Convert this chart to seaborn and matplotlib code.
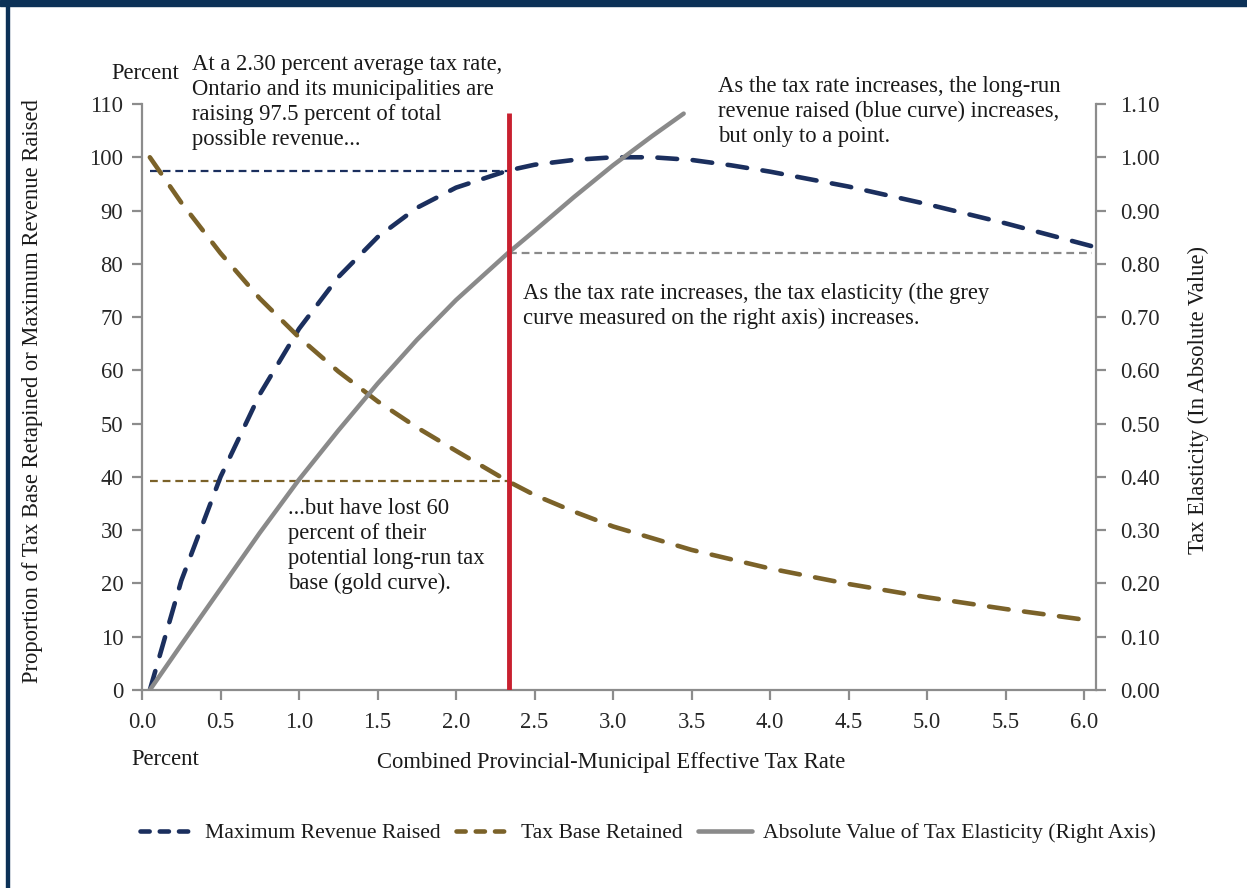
import numpy as np
import pandas as pd
import matplotlib
matplotlib.use('Agg')
import matplotlib.pyplot as plt
import seaborn as sns
from matplotlib.lines import Line2D

# 데이터
rev_x = [0.05, 0.25, 0.5, 0.75, 1.0, 1.25, 1.5, 1.75, 2.0, 2.33, 2.5, 2.75, 3.0, 3.25, 3.5, 3.75, 4.0, 4.5, 5.0, 5.5, 6.05]
rev_y = [0, 20.5, 40, 55.5, 67.8, 77.5, 85, 90.5, 94.3, 97.5, 98.6, 99.5, 100, 100, 99.5, 98.5, 97.3, 94.5, 91.2, 87.6, 83.3]

base_x = [0.05, 0.25, 0.5, 0.75, 1.0, 1.25, 1.5, 1.75, 2.0, 2.33, 2.5, 2.75, 3.0, 3.5, 4.0, 4.5, 5.0, 5.5, 6.05]
base_y = [100, 91.5, 82, 73.5, 66.2, 59.8, 54.2, 49.3, 44.9, 39.2, 36.6, 33.5, 30.7, 26.3, 22.8, 19.9, 17.4, 15.2, 13.0]

elas_x = [0.05, 0.25, 0.5, 0.75, 1.0, 1.25, 1.5, 1.75, 2.0, 2.33, 2.5, 2.75, 3.0, 3.25, 3.45]
elas_y = [0, 0.085, 0.19, 0.295, 0.395, 0.487, 0.575, 0.657, 0.732, 0.82, 0.862, 0.925, 0.985, 1.04, 1.082]

current_rate = 2.34
red_top = 108.3
rev_at_rate = 97.5
base_at_rate = 39.2
elas_at_rate = 0.82

x_ticks = [0.0, 0.5, 1.0, 1.5, 2.0, 2.5, 3.0, 3.5, 4.0, 4.5, 5.0, 5.5, 6.0]
left_ticks = [0, 10, 20, 30, 40, 50, 60, 70, 80, 90, 100, 110]
right_ticks = [0.0, 0.1, 0.2, 0.3, 0.4, 0.5, 0.6, 0.7, 0.8, 0.9, 1.0, 1.1]

NAVY = '#1b2f5e'
GOLD = '#7b6229'
GREY = '#8a8a8a'
RED = '#c8202f'
AXC = '#8c8c8c'
FRAME = '#0c3157'

sns.set_style('white')
plt.rcParams['font.family'] = ['Liberation Serif', 'DejaVu Serif']
plt.rcParams['text.color'] = '#1a1a1a'

W, H = 1247, 888
fig = plt.figure(figsize=(W / 100, H / 100), dpi=100)
ax = fig.add_axes([142 / W, 1 - 690 / H, (1096 - 142) / W, (690 - 104) / H])
ax2 = ax.twinx()

FS = 16.3
LS = 1.25
dash_kw = dict(lw=3.3, dash_capstyle='round')

# 참고선
ax.hlines(rev_at_rate, rev_x[0], current_rate, color=NAVY, lw=1.6, linestyle=(0, (3.5, 2.2)))
ax.hlines(base_at_rate, base_x[0], current_rate, color=GOLD, lw=1.6, linestyle=(0, (3.5, 2.2)))
ax2.hlines(elas_at_rate, current_rate, 6.05, color=GREY, lw=1.6, linestyle=(0, (3.5, 2.2)))

# 곡선
sns.lineplot(x=rev_x, y=rev_y, ax=ax, color=NAVY, linestyle=(0, (4.3, 3.4)), errorbar=None, **dash_kw)
sns.lineplot(x=base_x, y=base_y, ax=ax, color=GOLD, linestyle=(0, (4.3, 3.4)), errorbar=None, **dash_kw)
sns.lineplot(x=elas_x, y=elas_y, ax=ax2, color=GREY, lw=3.2, errorbar=None)

ax2.vlines(current_rate, 0, red_top / 100, color=RED, lw=3.5, zorder=5)

ax.set_xlim(0, 6.076)
ax.set_ylim(0, 110)
ax2.set_ylim(0, 1.1)

ax.set_xticks(x_ticks)
ax.set_xticklabels([f'{v:.1f}' for v in x_ticks])
ax.set_yticks(left_ticks)
ax.set_yticklabels([str(v) for v in left_ticks])
ax2.set_yticks(right_ticks)
ax2.set_yticklabels([f'{v:.2f}' for v in right_ticks])

for a in (ax, ax2):
    for s in a.spines.values():
        s.set_visible(False)
    a.set_xlabel('')
    a.set_ylabel('')
ax.spines['left'].set_visible(True)
ax.spines['bottom'].set_visible(True)
ax2.spines['right'].set_visible(True)
for s in (ax.spines['left'], ax.spines['bottom'], ax2.spines['right']):
    s.set_color(AXC)
    s.set_linewidth(1.6)

ax.tick_params(axis='y', left=True, direction='out', length=7.5, width=1.6, color=AXC, pad=6, labelsize=FS)
ax.tick_params(axis='x', bottom=True, direction='out', length=7.5, width=1.6, color=AXC, pad=8, labelsize=FS)
ax2.tick_params(axis='y', right=True, direction='out', length=7.5, width=1.6, color=AXC, pad=10, labelsize=FS)

# 텍스트
fig.text(145 / W, 1 - 63 / H, 'Percent', ha='center', va='top', fontsize=FS)
fig.text(192 / W, 1 - 54 / H, 'At a 2.30 percent average tax rate,\nOntario and its municipalities are\n'
         'raising 97.5 percent of total\npossible revenue...', ha='left', va='top', fontsize=FS, linespacing=LS)
fig.text(718 / W, 1 - 76 / H, 'As the tax rate increases, the long-run\nrevenue raised (blue curve) increases,\n'
         'but only to a point.', ha='left', va='top', fontsize=FS, linespacing=LS)
fig.text(523 / W, 1 - 283 / H, 'As the tax rate increases, the tax elasticity (the grey\n'
         'curve measured on the right axis) increases.', ha='left', va='top', fontsize=FS, linespacing=LS)
fig.text(288 / W, 1 - 498 / H, '...but have lost 60\npercent of their\npotential long-run tax\nbase (gold curve).',
         ha='left', va='top', fontsize=FS, linespacing=LS)

fig.text(33 / W, 1 - 391 / H, 'Proportion of Tax Base Retapined or Maximum Revenue Raised',
         rotation=90, ha='center', va='center', fontsize=FS)
fig.text(1198 / W, 1 - 400 / H, 'Tax Elasticity (In Absolute Value)',
         rotation=90, ha='center', va='center', fontsize=FS)
fig.text(131 / W, 1 - 759 / H, 'Percent', ha='left', va='center', fontsize=FS)
fig.text(611 / W, 1 - 762 / H, 'Combined Provincial-Municipal Effective Tax Rate', ha='center', va='center', fontsize=FS)

# 범례
handles = [
    Line2D([], [], color=NAVY, lw=3.3, linestyle=(0, (2.0, 2.2)), dash_capstyle='round'),
    Line2D([], [], color=GOLD, lw=3.3, linestyle=(0, (2.0, 2.2)), dash_capstyle='round'),
    Line2D([], [], color=GREY, lw=3.3),
]
labels = ['Maximum Revenue Raised', 'Tax Base Retained', 'Absolute Value of Tax Elasticity (Right Axis)']
fig.legend(handles, labels, loc='center', bbox_to_anchor=(648 / W, 1 - 833 / H), ncol=3, frameon=False,
           fontsize=15.6, handlelength=2.5, columnspacing=0.7, handletextpad=0.5)

# 테두리
fig.patches.append(plt.Rectangle((0, 1 - 6 / H), 1, 6 / H, transform=fig.transFigure, color=FRAME, zorder=10))
fig.patches.append(plt.Rectangle((6 / W, 0), 2.5 / W, 1, transform=fig.transFigure, color=FRAME, zorder=10))

fig.savefig('out.png', dpi=100)
